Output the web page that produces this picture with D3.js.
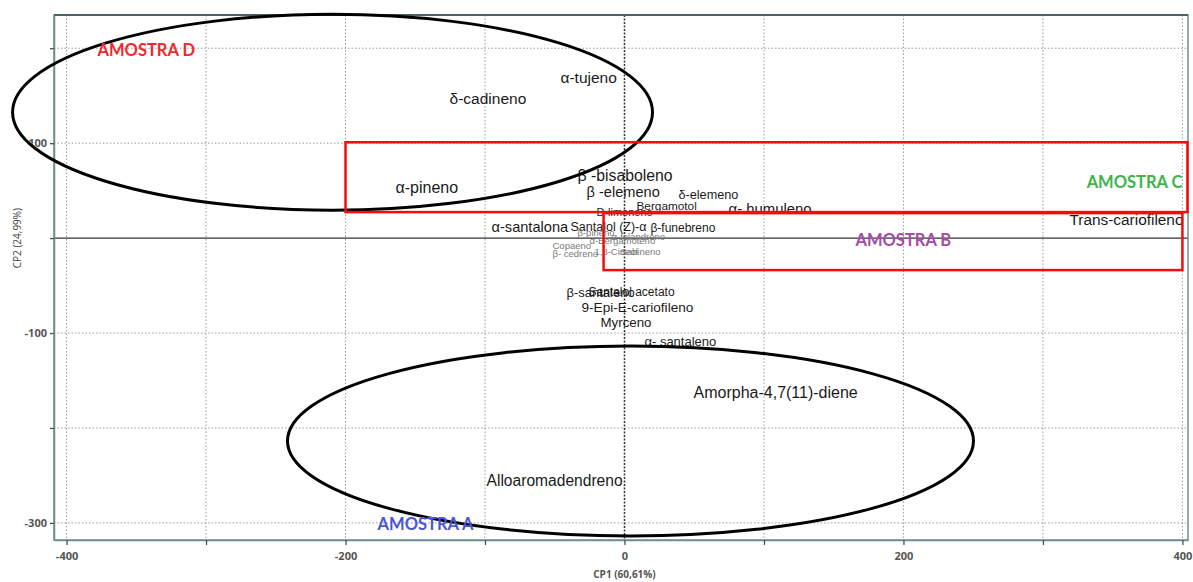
<!DOCTYPE html>
<html>
<head>
<meta charset="utf-8">
<script src="https://cdn.jsdelivr.net/npm/d3@7"></script>
<style>
  body { margin: 0; background: #fff; }
  text { font-family: "Liberation Sans", Arial, sans-serif; }
</style>
</head>
<body>
<div id="visualContainer"></div>
<script>
// compound labels with their CP1 / CP2 scores
var names = ["α-tujeno", "δ-cadineno", "α-pineno", "β -bisaboleno", "β -elemeno", "δ-elemeno",
  "Bergamotol", "D-limoneno", "α- humuleno", "Trans-cariofileno", "α-santalona", "Santalol (Z)-α",
  "β-funebreno", "β-pineno", "α-felandreno", "α-Bergamoteno", "Copaeno", "β- cedreno", "1,8-Cineol",
  "Sabineno", "β-santaleno", "Santalol acetato", "9-Epi-E-cariofileno", "Myrceno", "α- santaleno",
  "Amorpha-4,7(11)-diene", "Alloaromadendreno"];
var cp1 = [-45.9, -125.4, -164.2, -33.7, -27.2, 38.7, 8.6, -20.1, 74.6, 319, -95.3, -38.7,
  18.6, -33.7, -9.3, -25.1, -51.6, -51.6, -21.5, -2.9, -41.6, -25.8, -30.8, -17.2, 14.3,
  49.5, -98.9];
var cp2 = [169.5, 147.4, 53.7, 66.3, 48.4, 46.3, 33.7, 27.4, 30.5, 20, 11.6, 12.6,
  10.5, 5.3, 1.1, -3.2, -8.4, -16.8, -14.7, -14.7, -56.8, -56.8, -72.6, -88.4, -108.4,
  -162.1, -255.8];
var labelSize = [15.5, 15.5, 16, 15.8, 14.6, 12.7, 11.8, 11, 14.9, 15.4, 14.6, 12.5, 12,
  9.5, 9.5, 9.5, 9.5, 9.5, 9.5, 9.5,
  13, 12, 13.6, 13.3, 13, 16, 15.6];

var xTicks = [-400, -300, -200, -100, 0, 100, 200, 300, 400];
var xTickLabels = ["-400", "", "-200", "", "0", "", "200", "", "400"];
var yTicks = [-300, -200, -100, 0, 100, 200];
var yTickLabels = ["-300", "", "-100", "", "100", ""];

// sample groups drawn over the scores
var groupNames = ["AMOSTRA D", "AMOSTRA C", "AMOSTRA B", "AMOSTRA A"];
var groupColors = ["#ee2a2f", "#3cb54a", "#a64ca6", "#4a56d6"];
var groupLabelX = [-377.8, 400, 165.6, -177];
var groupLabelY = [197.9, 58.9, -2.1, -301];
var ellipseCx = [-209.3, 4.3];
var ellipseCy = [132.6, -213.7];
var ellipseRx = [229.4, 245.9];
var ellipseRy = [103.2, 100];
var boxX1 = [-200, -15];
var boxX2 = [403.6, 400];
var boxY1 = [101, 26.3];
var boxY2 = [27.4, -33.7];

var svgCanvas = d3.select("#visualContainer")
  .append("svg")
  .attr("width", 1193)
  .attr("height", 582);

var x = d3.scaleLinear().domain([-409, 404]).range([54, 1188]);
var y = d3.scaleLinear().domain([-318, 235]).range([540, 15]);

// dotted grid
svgCanvas.selectAll(".vgrid")
  .data(xTicks.filter(function(d){ return d != 0; }))
  .enter().append("line")
    .attr("x1", function(d){ return x(d); })
    .attr("x2", function(d){ return x(d); })
    .attr("y1", y(235)).attr("y2", y(-318))
    .attr("stroke", "#9a9a9a")
    .attr("stroke-dasharray", "1.5,2");

svgCanvas.selectAll(".hgrid")
  .data(yTicks.filter(function(d){ return d != 0; }))
  .enter().append("line")
    .attr("y1", function(d){ return y(d); })
    .attr("y2", function(d){ return y(d); })
    .attr("x1", x(-409)).attr("x2", x(404))
    .attr("stroke", "#9a9a9a")
    .attr("stroke-dasharray", "1.5,2");

// zero lines
svgCanvas.append("line")
  .attr("x1", x(-409)).attr("x2", x(404))
  .attr("y1", y(0)).attr("y2", y(0))
  .attr("stroke", "#333").attr("stroke-width", 1.2);
svgCanvas.append("line")
  .attr("x1", x(0)).attr("x2", x(0))
  .attr("y1", y(235)).attr("y2", y(-318))
  .attr("stroke", "#333").attr("stroke-width", 1.5)
  .attr("stroke-dasharray", "2,1.5");

// frame
svgCanvas.append("rect")
  .attr("x", x(-409)).attr("y", y(235))
  .attr("width", x(404) - x(-409)).attr("height", y(-318) - y(235))
  .attr("fill", "none").attr("stroke", "#6f8f8c").attr("stroke-width", 1.5);
svgCanvas.append("line")
  .attr("x1", x(-409)).attr("x2", x(404))
  .attr("y1", y(235)).attr("y2", y(235))
  .attr("stroke", "#4f6462").attr("stroke-width", 2);

// axes
var xAxis = d3.axisBottom(x).tickValues(xTicks)
  .tickFormat(function(d, i){ return xTickLabels[i]; }).tickSize(5).tickSizeOuter(0);
var yAxis = d3.axisLeft(y).tickValues(yTicks)
  .tickFormat(function(d, i){ return yTickLabels[i]; }).tickSize(4).tickSizeOuter(0);

var gx = svgCanvas.append("g").attr("transform", "translate(0," + y(-318) + ")").call(xAxis);
var gy = svgCanvas.append("g").attr("transform", "translate(" + x(-409) + ",0)").call(yAxis);
[gx, gy].forEach(function(g){
  g.select(".domain").attr("stroke", "#6f8f8c").attr("stroke-width", 1.5);
  g.selectAll(".tick line").attr("stroke", "#3f5553").attr("stroke-width", 1.3);
  g.selectAll(".tick text")
    .attr("fill", "#555").attr("font-size", 11).attr("font-weight", "bold")
    .style("font-family", "'Open Sans', sans-serif");
});
gx.selectAll(".tick text").attr("dy", "1.1em");

svgCanvas.append("text")
  .attr("x", x(0)).attr("y", 578)
  .attr("text-anchor", "middle")
  .attr("font-size", 10).attr("font-weight", "bold").attr("fill", "#555")
  .style("font-family", "'Open Sans', sans-serif")
  .text("CP1 (60,61%)");
svgCanvas.append("text")
  .attr("transform", "translate(21," + y(0) + ") rotate(-90)")
  .attr("text-anchor", "middle")
  .attr("font-size", 10).attr("fill", "#444")
  .style("font-family", "'Open Sans', sans-serif")
  .text("CP2 (24,99%)");

// compound labels
var scores = names.map(function(n, i){
  return {name: n, x: cp1[i], y: cp2[i], size: labelSize[i]};
});
svgCanvas.selectAll(".score")
  .data(scores)
  .enter().append("text")
    .attr("class", "score")
    .attr("x", function(d){ return x(d.x); })
    .attr("y", function(d){ return y(d.y); })
    .attr("dy", "0.35em")
    .attr("font-size", function(d){ return d.size; })
    .attr("fill", function(d){ return d.size < 10 ? "#7a7a7a" : "#1a1a1a"; })
    .text(function(d){ return d.name; });

// groups: ellipses and boxes
svgCanvas.selectAll(".grpEllipse")
  .data(ellipseCx)
  .enter().append("ellipse")
    .attr("cx", function(d){ return x(d); })
    .attr("cy", function(d, i){ return y(ellipseCy[i]); })
    .attr("rx", function(d, i){ return x(ellipseRx[i]) - x(0); })
    .attr("ry", function(d, i){ return y(0) - y(ellipseRy[i]); })
    .attr("fill", "none").attr("stroke", "#000").attr("stroke-width", 3);

svgCanvas.selectAll(".grpBox")
  .data(boxX1)
  .enter().append("rect")
    .attr("x", function(d){ return x(d); })
    .attr("y", function(d, i){ return y(boxY1[i]); })
    .attr("width", function(d, i){ return x(boxX2[i]) - x(d); })
    .attr("height", function(d, i){ return y(boxY2[i]) - y(boxY1[i]); })
    .attr("fill", "none").attr("stroke", "#f20d0d").attr("stroke-width", 2.5);

svgCanvas.selectAll(".grpLabel")
  .data(groupNames)
  .enter().append("text")
    .attr("x", function(d, i){ return x(groupLabelX[i]); })
    .attr("y", function(d, i){ return y(groupLabelY[i]); })
    .attr("dy", "0.35em")
    .attr("text-anchor", function(d, i){ return i == 1 ? "end" : "start"; })
    .attr("font-size", 16.5).attr("font-weight", "bold")
    .attr("fill", function(d, i){ return groupColors[i]; })
    .style("font-family", "Lato, 'Open Sans', sans-serif")
    .text(function(d){ return d; });
</script>
</body>
</html>
